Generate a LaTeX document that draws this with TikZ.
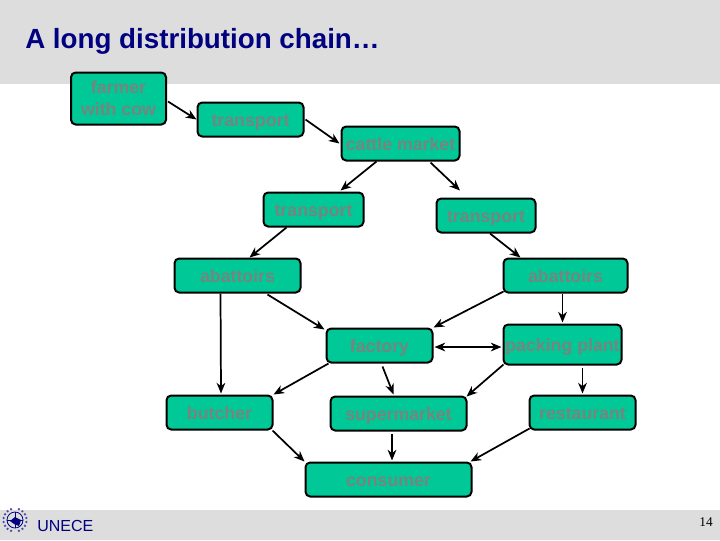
\documentclass[tikz,border=0pt]{standalone}
\usepackage{fontspec}
\setmainfont{Liberation Sans}
\newfontfamily\pagefont{Liberation Serif}
\usetikzlibrary{arrows.meta,calc}
\definecolor{bandgrey}{HTML}{DDDDDD}
\definecolor{boxgreen}{HTML}{00C896}
\definecolor{labelgrey}{HTML}{76857F}
\definecolor{titlenavy}{HTML}{000080}
\tikzset{
	stage/.style={draw=black,fill=boxgreen,rounded corners=3.5pt,line width=1.5pt,text=labelgrey,
		font=\fontsize{13.3}{16.5}\selectfont\bfseries,align=center,inner sep=0pt},
	oneline/.style={stage,minimum height=25.5pt,text height=10pt,text depth=0pt},
	flow/.style={-{Stealth[length=8pt,width=6.5pt,inset=2.5pt]},line width=1.3pt,black},
	both/.style={{Stealth[length=8pt,width=6.5pt,inset=2.5pt]}-{Stealth[length=8pt,width=6.5pt,inset=2.5pt]},line width=1.3pt,black}
}
\begin{document}
\begin{tikzpicture}[x=0.75pt,y=-0.75pt]
	\useasboundingbox (0,0) rectangle (720,540);
	\fill[bandgrey] (0,0) rectangle (720,84);
	\fill[bandgrey] (0,510) rectangle (720,540);
	\node[anchor=west,text=titlenavy,font=\fontsize{20.8}{25}\selectfont\bfseries,inner sep=0pt] (title) at (25,41) {A long distribution chain…};
	\node[anchor=west,text=titlenavy,font=\fontsize{12}{14}\selectfont,inner sep=0pt] (unece) at (37,526) {UNECE};
	\node[text=black,font=\fontsize{10}{12}\selectfont\pagefont,inner sep=0pt] (pageno) at (706,522) {14};

	\draw[titlenavy,line width=0.6pt] (15,520) circle (8);
	\draw[titlenavy,line width=0.5pt] (7,520) -- (23,520) (15,512) -- (15,528);
	\fill[titlenavy] (10,521) -- (15,517) -- (21,520) -- (19,526) -- (14,524) -- cycle;
	\foreach \a in {110,130,...,250}
	{
		\fill[titlenavy!70] (15,520) ++(\a:11.5) circle (1.3);
		\fill[titlenavy!70] (15,520) ++(180-\a:11.5) circle (1.3);
	}

	\node[stage,minimum width=71.25pt,minimum height=39pt] (farmer) at (118.5,98.5) {farmer\\with cow};
	\node[oneline,minimum width=79.5pt] (carrierA) at (250.5,119.5) {transport};
	\node[oneline,minimum width=88.5pt] (market) at (400.5,143.5) {cattle market};
	\node[oneline,minimum width=75pt] (carrierB) at (313.5,209.5) {transport};
	\node[oneline,minimum width=74.25pt] (carrierC) at (486,215.5) {transport};
	\node[oneline,minimum width=94.5pt] (abattoirA) at (237.5,275.5) {abattoirs};
	\node[oneline,minimum width=93pt] (abattoirB) at (565.5,275.5) {abattoirs};
	\node[oneline,minimum width=79.5pt] (factory) at (379.5,345.5) {factory};
	\node[oneline,minimum width=88.5pt,minimum height=30pt] (packing) at (562.5,344.5) {packing plant};
	\node[oneline,minimum width=79.5pt] (butcher) at (219.5,412.5) {butcher};
	\node[oneline,minimum width=102pt] (shop) at (398.5,413.5) {supermarket};
	\node[oneline,minimum width=79.5pt] (restaurant) at (582.5,412.5) {restaurant};
	\node[oneline,minimum width=124.5pt] (consumer) at (388.5,479.5) {consumer};

	\draw[flow] ($(farmer.east)+(1,3)$) -- (carrierA.west);
	\draw[flow] ($(carrierA.east)+(1,0)$) -- ($(market.west)+(-1,0)$);
	\draw[flow] ($(market.south)+(-24,0)$) -- ($(carrierB.north)+(27,-1)$);
	\draw[flow] ($(market.south)+(30,1)$) -- ($(carrierC.north)+(-26,-7)$);
	\draw[flow] ($(carrierB.south)+(-27,0)$) -- ($(abattoirA.north)+(12,0)$);
	\draw[flow] ($(carrierC.south)+(4,0)$) -- ($(abattoirB.north)+(-45,0)$);
	\draw[flow] ($(abattoirA.south)+(-17,0)$) -- ($(butcher.north)+(1.5,-1)$);
	\draw[flow] ($(abattoirA.south)+(30,1)$) -- ($(factory.north west)+(-1,2)$);
	\draw[flow] ($(abattoirB.south west)+(1,-2)$) -- ($(factory.north east)+(0,0)$);
	\draw[flow] ($(abattoirB.south)+(-3,0)$) -- ($(packing.north)+(0,-1)$);
	\draw[both] ($(factory.east)+(1,1.5)$) -- ($(packing.west)+(-1,2.5)$);
	\draw[flow] ($(factory.south west)+(3,0)$) -- (butcher.north east);
	\draw[flow] ($(factory.south)+(3,3)$) -- ($(shop.north)+(-5,-1)$);
	\draw[flow] ($(packing.south west)+(1,-1)$) -- ($(shop.north east)+(-1,1)$);
	\draw[flow] ($(packing.south)+(20,2)$) -- ($(restaurant.north)+(0,-1)$);
	\draw[flow] ($(butcher.south east)+(-1,0)$) -- (consumer.north west);
	\draw[flow] ($(shop.south)+(-6.5,2)$) -- ($(consumer.north)+(3.5,-1)$);
	\draw[flow] ($(restaurant.south west)+(1,-2)$) -- ($(consumer.north east)+(-2,0)$);
\end{tikzpicture}
\end{document}
